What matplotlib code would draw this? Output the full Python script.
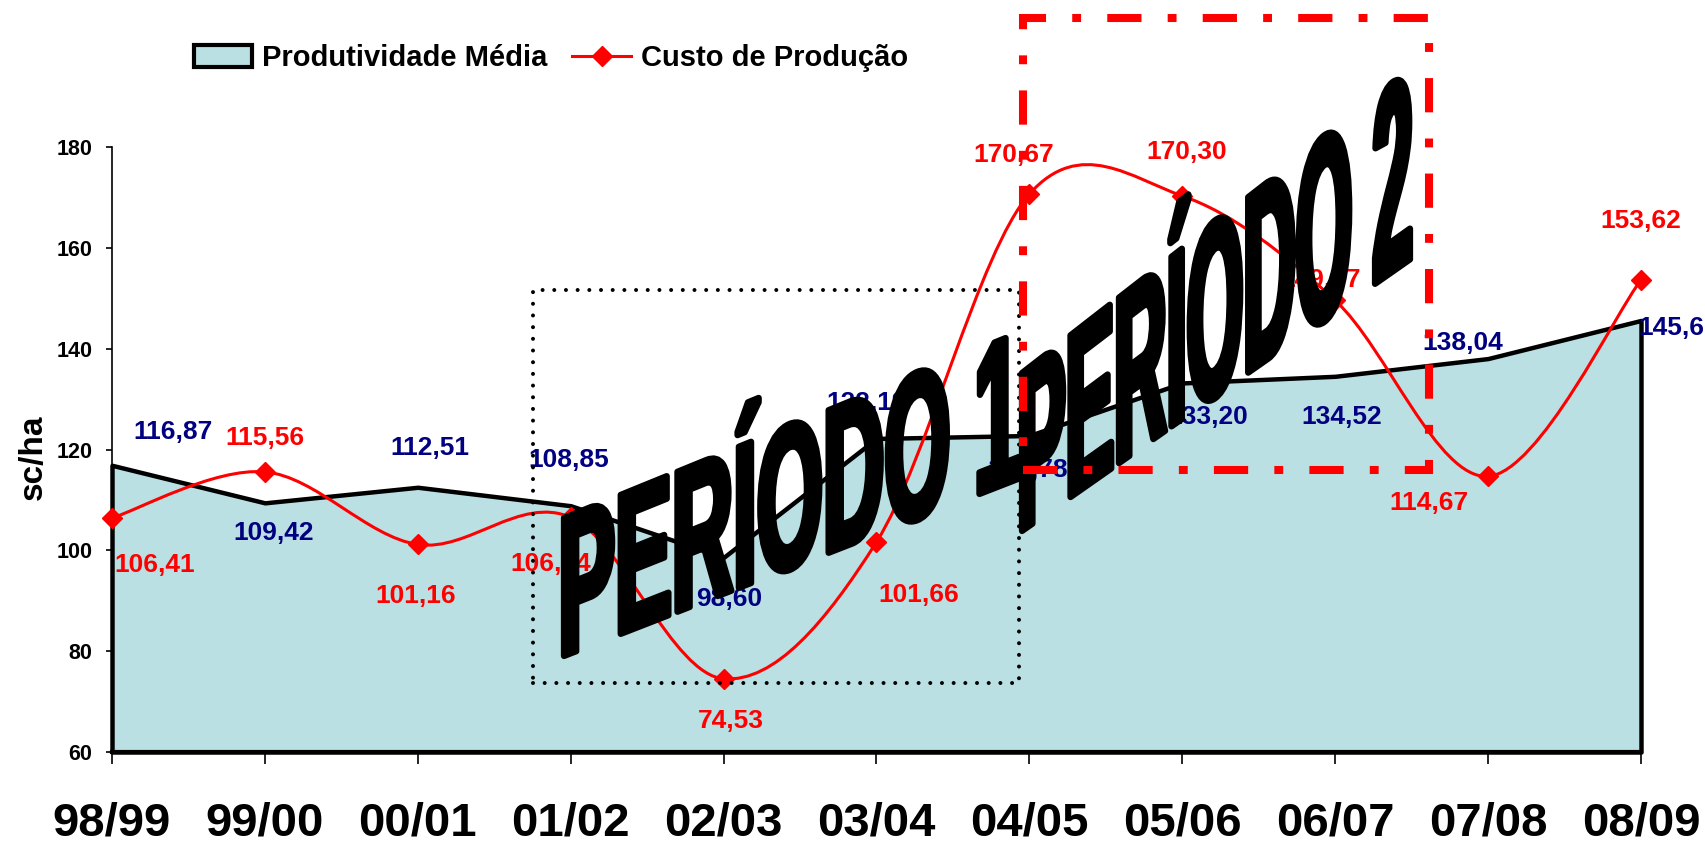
import matplotlib
matplotlib.use("Agg")
import matplotlib.pyplot as plt
import numpy as np
from matplotlib.path import Path
from matplotlib.patches import PathPatch, Rectangle, Patch
from matplotlib.lines import Line2D
from matplotlib.textpath import TextPath
from matplotlib.font_manager import FontProperties

plt.rcParams["font.family"] = ["Liberation Sans", "DejaVu Sans"]
plt.rcParams["font.weight"] = "bold"

# --- data ---------------------------------------------------------------
safras = ["98/99", "99/00", "00/01", "01/02", "02/03", "03/04",
          "04/05", "05/06", "06/07", "07/08", "08/09"]
produtividade = [116.87, 109.42, 112.51, 108.85, 98.60, 122.19,
                 122.78, 133.20, 134.52, 138.04, 145.60]
custo = [106.41, 115.56, 101.16, 106.54, 74.53, 101.66,
         170.67, 170.30, 149.57, 114.67, 153.62]

# label offsets (pixels) from each point
prod_off = [(61, 33), (9, -30), (12, 39), (-2, 46), (6, -42), (-10, 35),
            (-2, -35), (25, -34), (6, -41), (-25, 16), (-3, -8)]
custo_off = [(43, -47), (0, 34), (-2, -52), (-20, -47), (7, -42), (42, -53),
             (-16, 39), (4, 44), (-15, 20), (-59, -27), (0, 59)]

FILL = "#BAE0E3"
NAVY = "#000080"
RED = "#FF0000"

W, H = 1706, 842
fig = plt.figure(figsize=(W / 100, H / 100), dpi=100)
ax = fig.add_axes([112 / W, 1 - 752 / H, (1641 - 112) / W, (752 - 147) / H])

x = np.arange(len(safras))

# area (Produtividade)
ax.fill_between(x, produtividade, 60, facecolor=FILL, edgecolor="black",
                linewidth=3.2, clip_on=False, zorder=2)


def smooth_path(xs, ys):
    """Excel-like smoothed line (Catmull-Rom as cubic Bezier)."""
    pts = np.column_stack([xs, ys]).astype(float)
    n = len(pts)
    verts = [pts[0]]
    codes = [Path.MOVETO]
    for i in range(n - 1):
        p0 = pts[max(i - 1, 0)]
        p1 = pts[i]
        p2 = pts[i + 1]
        p3 = pts[min(i + 2, n - 1)]
        verts += [p1 + (p2 - p0) / 6, p2 - (p3 - p1) / 6, p2]
        codes += [Path.CURVE4] * 3
    return Path(verts, codes)


ax.add_patch(PathPatch(smooth_path(x, custo), fill=False, edgecolor=RED,
                       linewidth=2.2, zorder=3, clip_on=False))
ax.plot(x, custo, ls="none", marker="D", markersize=10, color=RED,
        zorder=3, clip_on=False)

# data labels
for i, v in enumerate(produtividade):
    txt = f"{v:.2f}".replace(".", ",")
    ha = "center"
    if i == len(produtividade) - 1:
        txt = txt[:5]  # cut by the chart edge in the original
        ha = "left"
    ax.annotate(txt, (i, v), xytext=prod_off[i], textcoords="offset pixels",
                ha=ha, va="center", color=NAVY, fontsize=19,
                fontweight="bold", zorder=4, annotation_clip=False)
for i, v in enumerate(custo):
    txt = f"{v:.2f}".replace(".", ",")
    ax.annotate(txt, (i, v), xytext=custo_off[i], textcoords="offset pixels",
                ha="center", va="center", color=RED, fontsize=19,
                fontweight="bold", zorder=4, annotation_clip=False)

ax.set_xlim(0, 10)
ax.set_ylim(60, 180)
ax.set_yticks(range(60, 181, 20))
ax.set_xticks(x)
ax.set_xticklabels(safras, fontsize=34, fontweight="bold")
for lab in ax.get_yticklabels():
    lab.set_fontsize(15.5)
    lab.set_fontweight("bold")
ax.tick_params(axis="x", length=8.6, width=1.2, pad=27)
ax.tick_params(axis="y", length=4.3, width=1.2, pad=10)
for s in ["top", "right"]:
    ax.spines[s].set_visible(False)
ax.spines["left"].set_linewidth(1.2)
ax.spines["bottom"].set_linewidth(3)
ax.patch.set_visible(False)

fig.text(33 / W, 1 - 457 / H, "sc/ha", rotation=90, fontsize=24,
         fontweight="bold", ha="center", va="center")

# legend
handles = [Patch(facecolor=FILL, edgecolor="black", linewidth=3),
           Line2D([], [], color=RED, lw=2.2, marker="D", markersize=10)]
fig.legend(handles, ["Produtividade Média", "Custo de Produção"],
           loc="center left", bbox_to_anchor=(194 / W, 1 - 58 / H),
           ncol=2, frameon=False, borderpad=0, borderaxespad=0,
           handlelength=2.0, handleheight=0.76, handletextpad=0.34,
           columnspacing=0.85, prop=FontProperties(weight="bold", size=21))


# skewed "WordArt" titles, built in figure pixels
def wordart(text, x0, y0, width, slope, h_left, h_right):
    fp = FontProperties(family="Liberation Sans", weight="bold")
    tp = TextPath((0, 0), text, size=1, prop=fp)
    cap = TextPath((0, 0), "P", size=1, prop=fp).get_extents().height
    ext = tp.get_extents()
    v = tp.vertices
    u = (v[:, 0] - ext.x0) / ext.width
    h = h_left + (h_right - h_left) * u
    X = x0 + u * width
    Y = y0 + u * width * slope + v[:, 1] / cap * h
    path = Path(np.column_stack([X / W, Y / H]), tp.codes)
    fig.add_artist(PathPatch(path, transform=fig.transFigure, facecolor="black",
                             edgecolor="black", linewidth=4.5, joinstyle="round",
                             zorder=5))


wordart("PERÍODO 1", 564, H - 656, 455, 0.39, 138, 146)
wordart("PERÍODO 2", 1022, H - 531, 388, 0.70, 158, 188)

# period boxes
fig.add_artist(Rectangle((533 / W, 1 - 683 / H), (1019 - 533) / W, (683 - 290) / H,
                         transform=fig.transFigure, fill=False, edgecolor="black",
                         linewidth=2.9, linestyle=(0, (0.001, 2.9)),
                         capstyle="round", zorder=6))
fig.add_artist(Rectangle((1023 / W, 1 - 470 / H), (1429 - 1023) / W, (470 - 18) / H,
                         transform=fig.transFigure, fill=False, edgecolor=RED,
                         linewidth=5.8, linestyle=(0, (4.25, 3.25, 1.1, 3.25)),
                         capstyle="butt", zorder=6))

fig.savefig("out.png", dpi=100)
